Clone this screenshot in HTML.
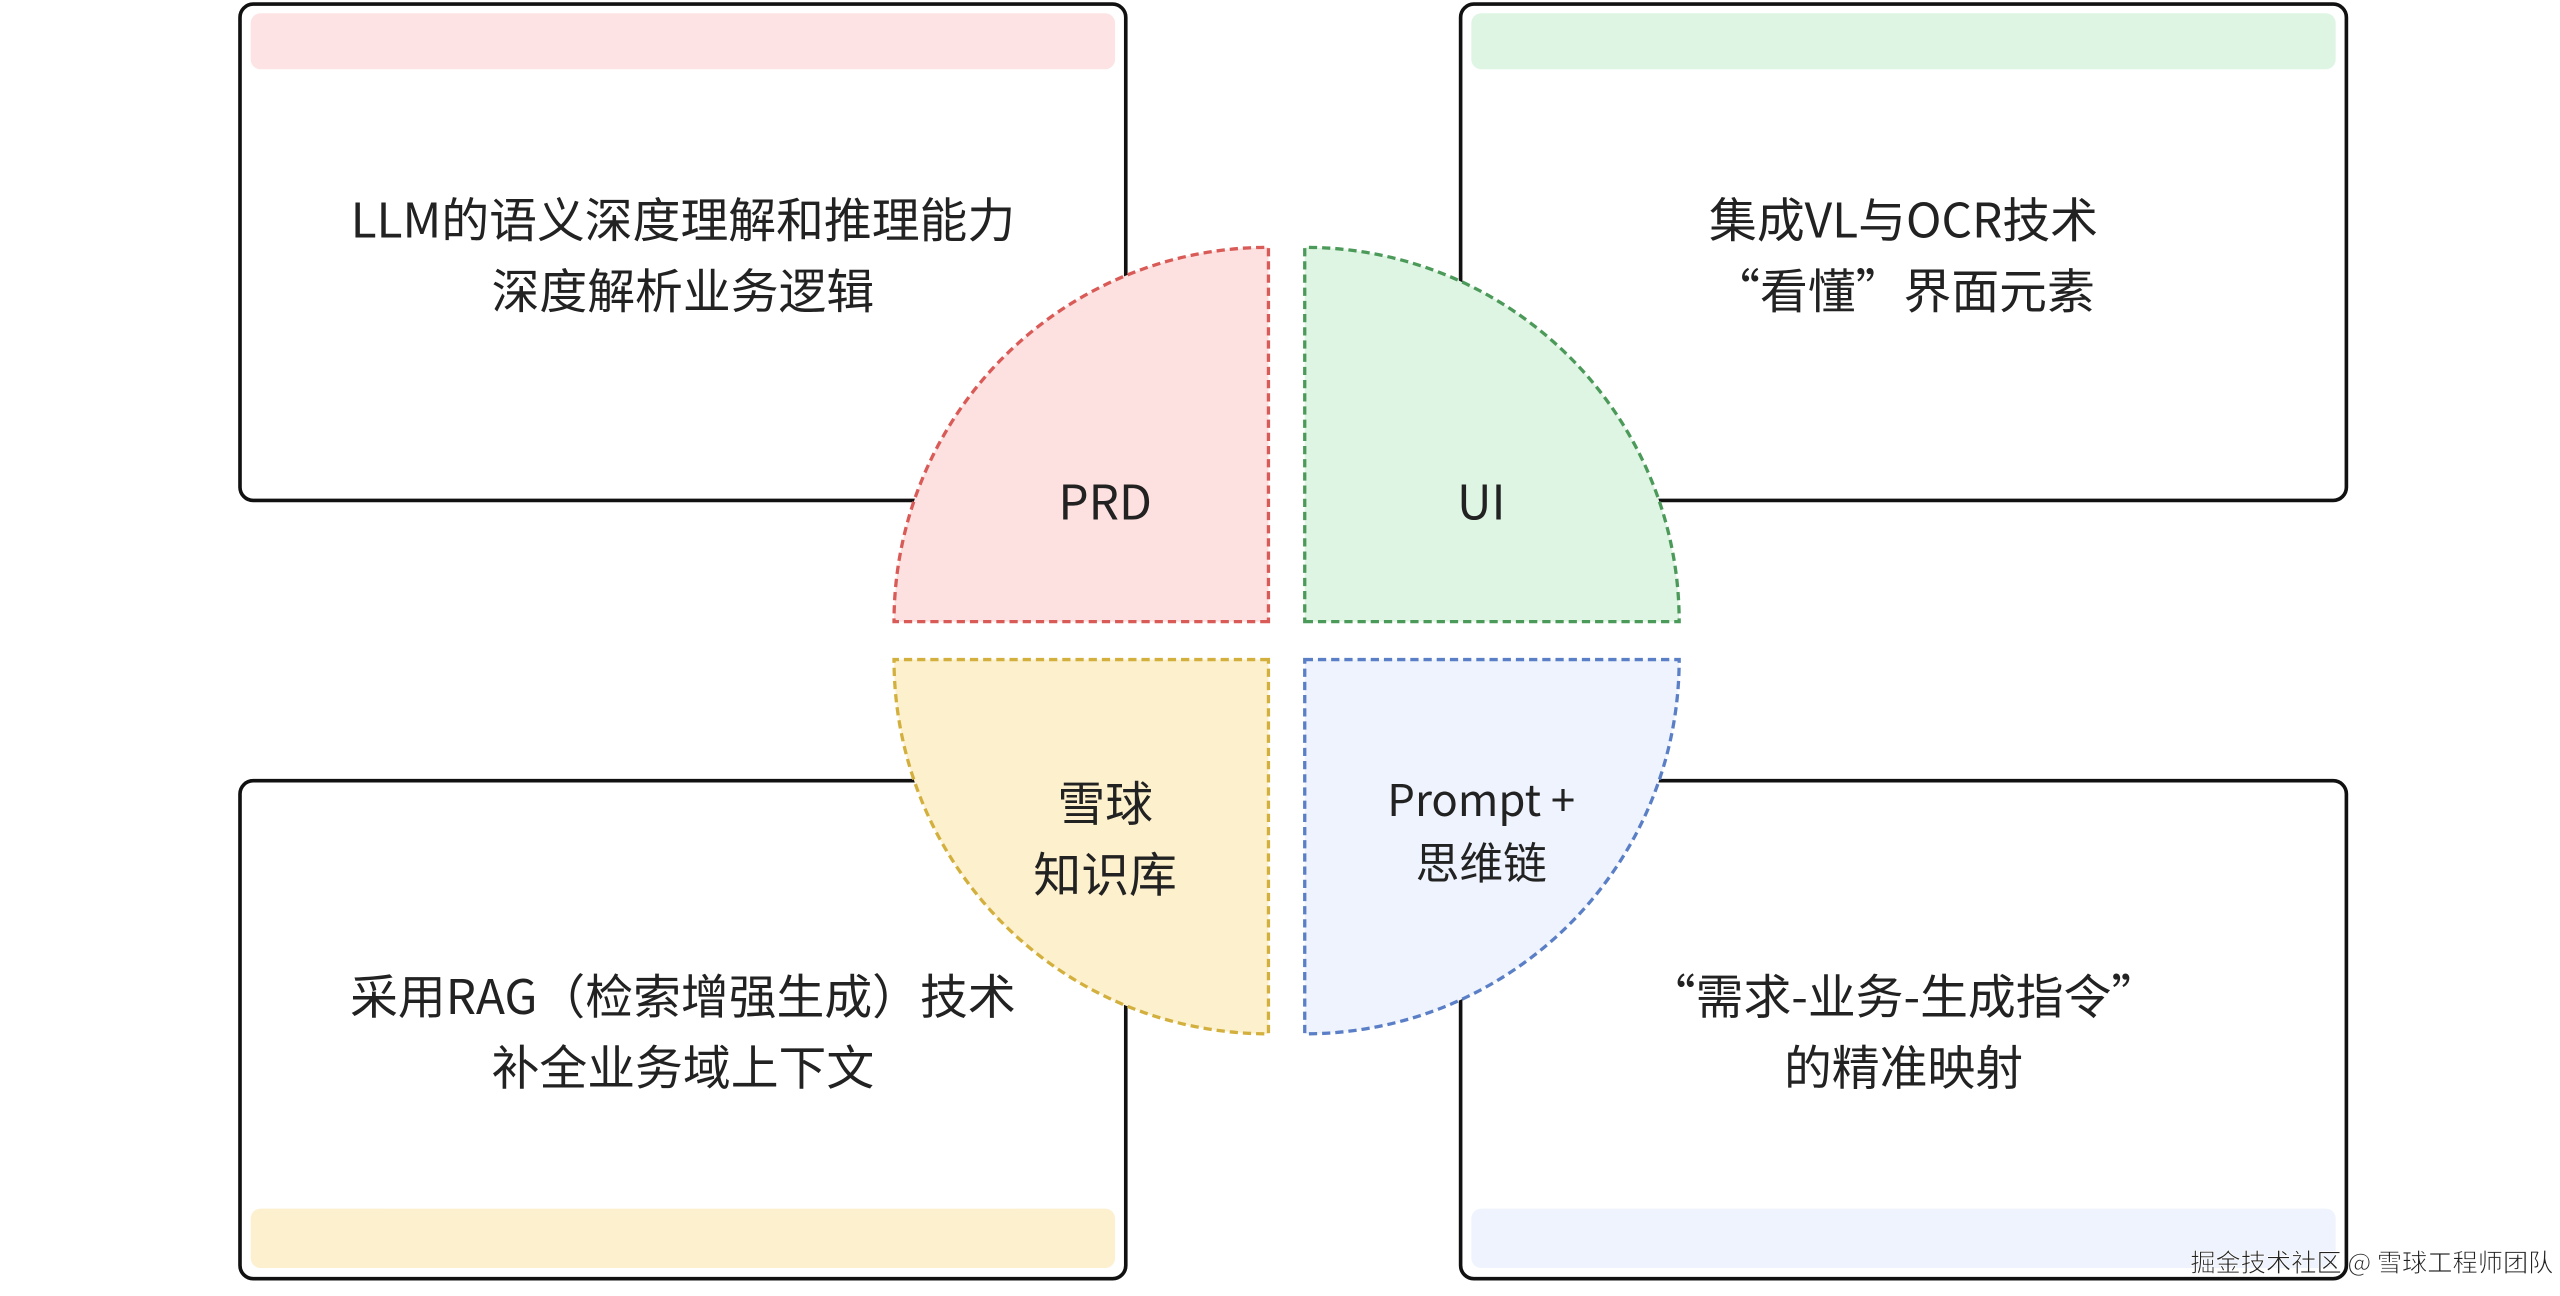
<!DOCTYPE html>
<html><head><meta charset="utf-8"><style>
html,body{margin:0;padding:0;background:#fff;}
svg{display:block;}
text{font-family:"Noto Sans CJK SC","Liberation Sans",sans-serif;fill:#222;}
</style></head><body>
<svg width="2560" height="1296" viewBox="0 0 1552 786" preserveAspectRatio="none" xmlns="http://www.w3.org/2000/svg">
<rect width="1552" height="786" fill="#fff"/>
<rect x="145.5" y="2.5" width="537" height="301" rx="8" fill="#fff" stroke="#111" stroke-width="2.2"/>
<rect x="152" y="8" width="524" height="34" rx="6" fill="#fde3e3"/>
<rect x="885.5" y="2.5" width="537" height="301" rx="8" fill="#fff" stroke="#111" stroke-width="2.2"/>
<rect x="892" y="8" width="524" height="34" rx="6" fill="#def5e3"/>
<rect x="145.5" y="473.5" width="537" height="302" rx="8" fill="#fff" stroke="#111" stroke-width="2.2"/>
<rect x="152" y="733" width="524" height="36" rx="6" fill="#fdf0cf"/>
<rect x="885.5" y="473.5" width="537" height="302" rx="8" fill="#fff" stroke="#111" stroke-width="2.2"/>
<rect x="892" y="733" width="524" height="36" rx="6" fill="#eef3fd"/>
<g font-size="29" text-anchor="middle">
<text x="414" y="144">LLM的语义深度理解和推理能力</text>
<text x="414" y="187">深度解析业务逻辑</text>
<text x="1154" y="144">集成VL与OCR技术</text>
<text x="1154" y="187">“看懂”界面元素</text>
<text x="414" y="615">采用RAG（检索增强生成）技术</text>
<text x="414" y="658">补全业务域上下文</text>
<text x="1154" y="615">“需求-业务-生成指令”</text>
<text x="1154" y="658">的精准映射</text>
</g>
<g stroke-width="2" stroke-dasharray="5 3">
<path d="M769,377 L542,377 A227,227 0 0 1 769,150 Z" fill="#fde0e0" stroke="#d95b57"/>
<path d="M791,377 L1018,377 A227,227 0 0 0 791,150 Z" fill="#dff5e3" stroke="#4c9a5a"/>
<path d="M769,400 L542,400 A227,227 0 0 0 769,627 Z" fill="#fdf0cd" stroke="#d3b03e"/>
<path d="M791,400 L1018,400 A227,227 0 0 1 791,627 Z" fill="#eef3fd" stroke="#5a7fc6"/>
</g>
<g font-size="29" text-anchor="middle">
<text x="670" y="315">PRD</text>
<text x="898" y="315">UI</text>
<text x="670" y="498">雪球</text>
<text x="670" y="541">知识库</text>
</g>
<g font-size="26.5" text-anchor="middle">
<text x="898" y="495">Prompt +</text>
<text x="898" y="533">思维链</text>
</g>
<text x="1548" y="771" font-size="15.3" text-anchor="end" fill="#666" stroke="#fff" stroke-width="0.4">掘金技术社区 @ 雪球工程师团队</text>
</svg>
</body></html>
